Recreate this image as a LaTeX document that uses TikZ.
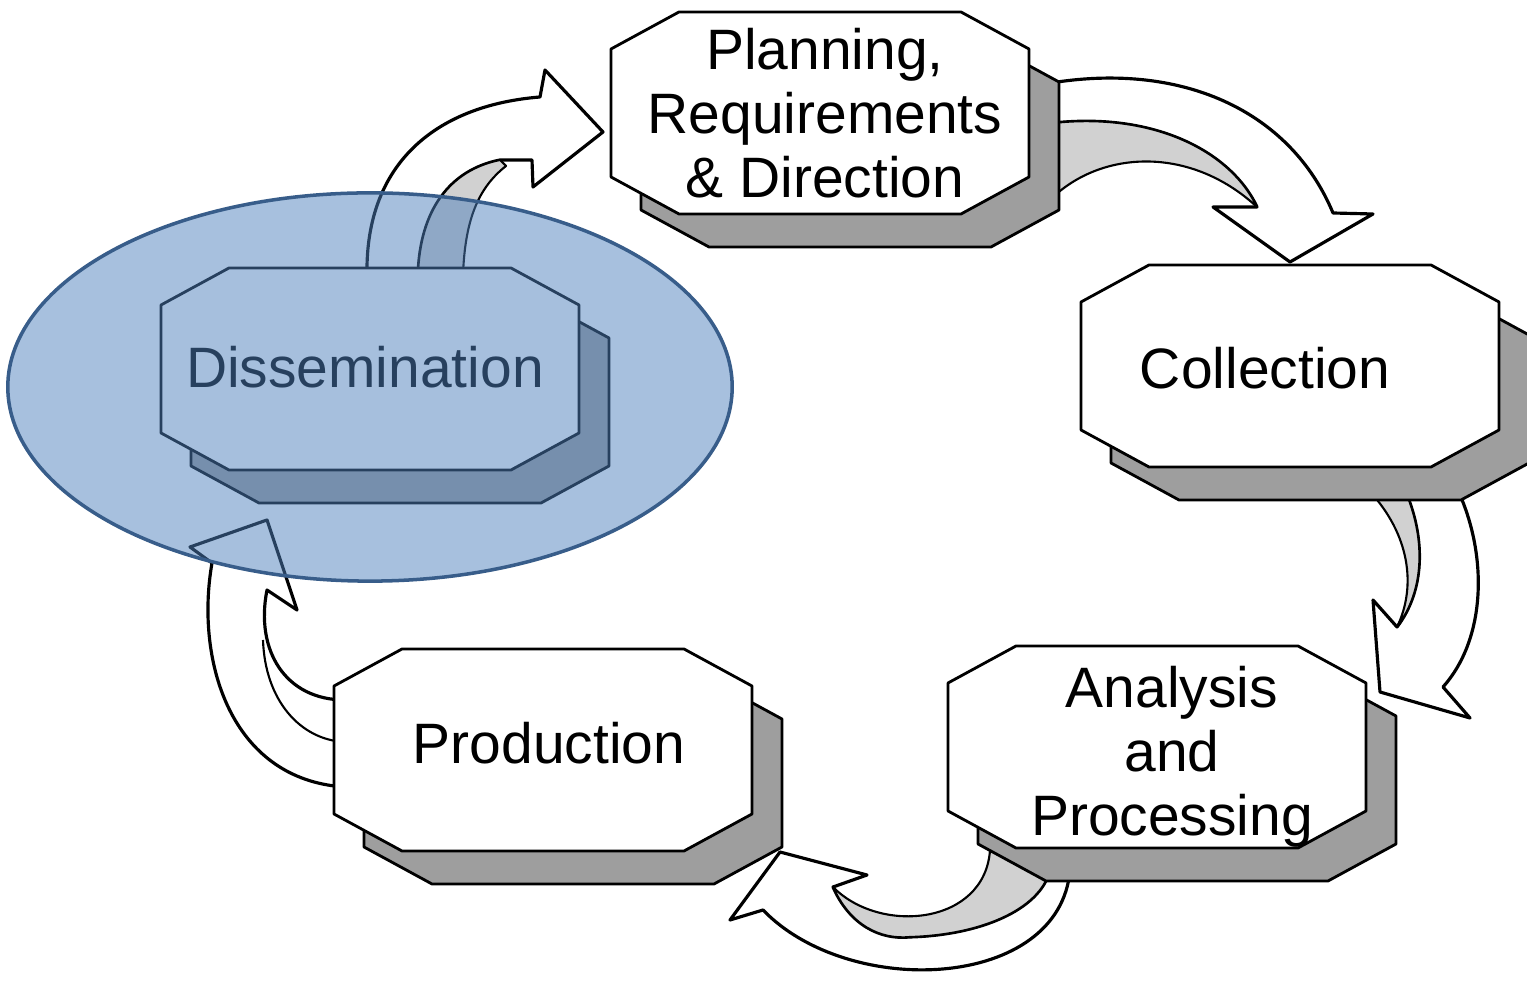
\documentclass[tikz,border=0pt]{standalone}
\usepackage{fontspec}
\setmainfont{Liberation Sans}
\definecolor{hiblue}{RGB}{79,129,189}
\definecolor{hiedge}{RGB}{56,93,138}
\begin{document}
\begin{tikzpicture}[x=0.01cm,y=-0.01cm,
    boxface/.style={draw=black,line width=0.8pt,fill=white,line join=round},
    boxside/.style={draw=black,line width=0.8pt,fill=black!38,line join=round},
    boxtext/.style={align=center,inner sep=0pt,font=\fontsize{16.2}{18.2}\selectfont},
    arrowbody/.style={draw=black,line width=0.9pt,fill=white,line join=round},
    arrowside/.style={draw=black,line width=0.6pt,fill=black!18,line join=round},
    highlight/.style={draw=hiedge,line width=1pt,fill=hiblue,fill opacity=0.5}]
\useasboundingbox (0,0) rectangle (1527,986);
% curved arrows
\draw[arrowbody] (367,275) .. controls (365,160) and (440,105) .. (540,97) -- (545,70) -- (603,132) -- (533,187) -- (532,160) -- (500,160) .. controls (450,170) and (420,210) .. (418,275) -- cycle;
\draw[arrowside] (500,160) .. controls (450,170) and (420,210) .. (418,275) -- (463,275) .. controls (465,220) and (478,188) .. (506,166) -- cycle;
\draw[arrowbody] (1045,84) .. controls (1180,60) and (1290,110) .. (1333,213) -- (1373,214) -- (1290,262) -- (1213,207) -- (1257,207) .. controls (1230,150) and (1150,110) .. (1045,124) -- cycle;
\draw[arrowside] (1257,207) .. controls (1230,150) and (1150,110) .. (1045,124) -- (1050,200) .. controls (1100,150) and (1190,145) .. (1257,207) -- cycle;
\draw[arrowbody] (1460,495) .. controls (1488,560) and (1485,640) .. (1443,687) -- (1470,718) -- (1380,692) -- (1373,600) -- (1397,627) .. controls (1425,590) and (1425,540) .. (1407,495) -- cycle;
\draw[arrowside] (1373,495) .. controls (1412,540) and (1415,590) .. (1397,627) .. controls (1425,590) and (1425,540) .. (1407,495) -- cycle;
\draw[arrowbody] (1070,870) .. controls (1060,990) and (850,1000) .. (763,910) -- (730,920) -- (780,852) -- (867,875) -- (833,887) .. controls (850,925) and (880,940) .. (910,937) .. controls (980,935) and (1040,910) .. (1050,870) -- cycle;
\draw[arrowside] (833,887) .. controls (850,925) and (880,940) .. (910,937) .. controls (980,935) and (1040,910) .. (1050,870) -- (990,850) .. controls (985,925) and (880,935) .. (833,887) -- cycle;
\draw[arrowbody] (345,787) .. controls (230,780) and (195,660) .. (212,563) -- (190,547) -- (267,520) -- (297,610) -- (267,590) .. controls (255,650) and (285,700) .. (345,700) -- cycle;
\draw[line width=0.6pt] (263,640) .. controls (265,700) and (300,740) .. (345,742);
% octagon boxes
\foreach \cx/\cy in {820/113, 1290/366, 1157/747, 543/750, 370/369} {
  \draw[boxside,shift={(30,33)}] ({\cx-209},{\cy-64}) -- ({\cx-141},{\cy-101}) -- ({\cx+141},{\cy-101}) -- ({\cx+209},{\cy-64}) -- ({\cx+209},{\cy+64}) -- ({\cx+141},{\cy+101}) -- ({\cx-141},{\cy+101}) -- ({\cx-209},{\cy+64}) -- cycle;
  \draw[boxface] ({\cx-209},{\cy-64}) -- ({\cx-141},{\cy-101}) -- ({\cx+141},{\cy-101}) -- ({\cx+209},{\cy-64}) -- ({\cx+209},{\cy+64}) -- ({\cx+141},{\cy+101}) -- ({\cx-141},{\cy+101}) -- ({\cx-209},{\cy+64}) -- cycle;
}
\node[boxtext] (plan) at (825,113) {Planning,\\Requirements\\\& Direction};
\node[boxtext] (coll) at (1265,368) {Collection};
\node[boxtext] (anal) at (1172,757) {Analysis\\and\\Processing};
\node[boxtext] (prod) at (549,743) {Production};
\node[boxtext] (diss) at (365,367) {Dissemination};
% highlight
\draw[highlight] (370,387) ellipse [x radius=3.62cm, y radius=1.94cm];
\end{tikzpicture}
\end{document}
